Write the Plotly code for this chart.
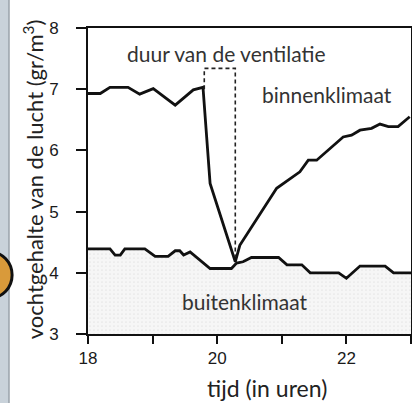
import plotly.graph_objects as go

# indoor climate (binnenklimaat)
binnen_x = [18.0, 18.19, 18.34, 18.62, 18.80, 19.01, 19.35, 19.63, 19.78, 19.89, 20.28,
            20.35, 20.92, 21.18, 21.28, 21.41, 21.54, 21.95, 22.08, 22.21, 22.39, 22.52,
            22.65, 22.80, 22.98]
binnen_y = [6.93, 6.93, 7.03, 7.03, 6.92, 7.01, 6.74, 6.99, 7.03, 5.46, 4.18,
            4.45, 5.38, 5.57, 5.65, 5.84, 5.84, 6.22, 6.25, 6.33, 6.36, 6.43,
            6.39, 6.39, 6.55]

# outdoor climate (buitenklimaat)
buiten_x = [18.0, 18.34, 18.42, 18.50, 18.57, 18.88, 19.04, 19.24, 19.35, 19.42, 19.48,
            19.58, 19.89, 20.22, 20.30, 20.40, 20.53, 20.95, 21.08, 21.31, 21.44, 21.88,
            22.0, 22.21, 22.60, 22.73, 23.0]
buiten_y = [4.39, 4.39, 4.29, 4.29, 4.39, 4.39, 4.27, 4.27, 4.36, 4.36, 4.29,
            4.34, 4.07, 4.07, 4.16, 4.18, 4.25, 4.25, 4.13, 4.13, 4.00, 4.00,
            3.91, 4.11, 4.11, 4.00, 4.00]

# ventilation duration box
vent_x = [19.8, 19.8, 20.28, 20.28]
vent_y = [7.0, 7.34, 7.34, 4.26]

x_ticks = [18, 20, 22]
x_labels = ["18", "20", "22"]
y_ticks = [3, 4, 5, 6, 7, 8]

fig = go.Figure()
fig.add_trace(go.Scatter(
    x=buiten_x, y=buiten_y, mode="lines",
    line=dict(color="#111", width=2.8),
    fill="tozeroy",
    fillpattern=dict(shape=".", fgcolor="#d4d4d4", bgcolor="#f6f6f6", size=4, solidity=0.15),
    hoverinfo="skip"))
fig.add_trace(go.Scatter(
    x=binnen_x, y=binnen_y, mode="lines",
    line=dict(color="#111", width=2.8), hoverinfo="skip"))
fig.add_trace(go.Scatter(
    x=vent_x, y=vent_y, mode="lines",
    line=dict(color="#222", width=1.6, dash="4px,3px"), hoverinfo="skip"))

afont = dict(family="Lato, 'Noto Sans', sans-serif", size=21, color="#333")
fig.add_annotation(x=20.15, y=7.58, text="duur van de ventilatie", showarrow=False, font=afont)
fig.add_annotation(x=21.70, y=6.91, text="binnenklimaat", showarrow=False, font=afont)
fig.add_annotation(x=20.43, y=3.53, text="buitenklimaat", showarrow=False, font=afont)

fig.add_annotation(xref="paper", yref="paper", x=0.554, y=-0.176, xanchor="center", yanchor="middle",
                   text="tijd (in uren)", showarrow=False,
                   font=dict(family="Lato, sans-serif", size=23, color="#222"))
fig.add_annotation(xref="paper", yref="paper", x=-0.170, y=0.506, xanchor="center", yanchor="middle",
                   textangle=-90, text="vochtgehalte van de lucht (gr/m<sup>3</sup>)",
                   showarrow=False, font=dict(family="Lato, sans-serif", size=22, color="#222"))

# left decorative strip
fig.add_shape(type="rect", xref="paper", yref="paper", x0=-0.30, x1=-0.2446, y0=-0.6, y1=1.5,
              fillcolor="#c9d2da", line=dict(width=0), layer="below")
fig.add_shape(type="line", xref="paper", yref="paper", x0=-0.2446, x1=-0.2446, y0=-0.6, y1=1.5,
              line=dict(color="#9aa3ab", width=1.5))
fig.add_shape(type="circle", xref="paper", yref="paper",
              x0=-0.37, x1=-0.235, y0=(334 - 298) / 306, y1=(334 - 252) / 306,
              fillcolor="#d99a3a", line=dict(color="#111", width=3))

axis_common = dict(showgrid=False, zeroline=False, showline=True, linecolor="#111", linewidth=2,
                   ticks="outside", tickcolor="#111", tickwidth=2, mirror=True, automargin=False,
                   tickfont=dict(family="Liberation Sans, Arial, sans-serif", size=17, color="#1a1a1a"))
fig.update_xaxes(range=[18, 23], tickvals=x_ticks, ticktext=x_labels, ticklen=8,
                 minor=dict(tickvals=[19, 21, 23], ticks="outside", ticklen=8, tickwidth=2, tickcolor="#111"),
                 **axis_common)
fig.update_yaxes(range=[3, 8], tickvals=y_ticks, ticklen=10, ticklabelstandoff=14, **axis_common)

fig.update_layout(width=412, height=403, margin=dict(l=88, r=1, t=28, b=69, autoexpand=False),
                  plot_bgcolor="white", paper_bgcolor="white", showlegend=False)
fig.write_html("out.html", config={"displayModeBar": False},
               post_script="document.body.style.margin='0';document.body.style.overflow='hidden';")
